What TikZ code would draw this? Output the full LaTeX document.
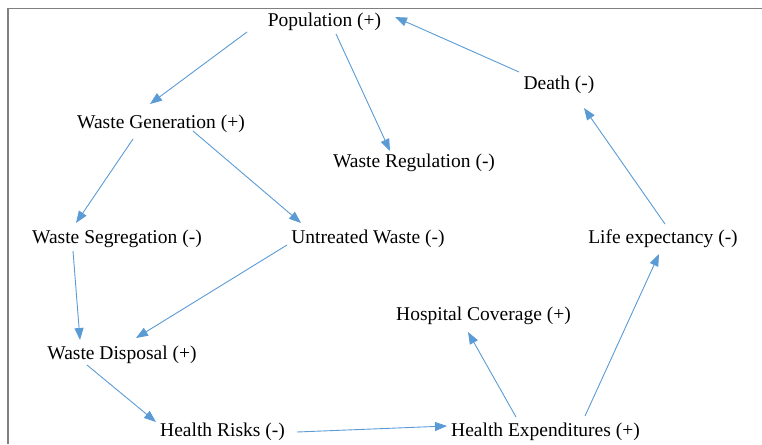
\documentclass[tikz,border=0pt]{standalone}
\usepackage{fontspec}
\setmainfont{Liberation Serif}
\usetikzlibrary{arrows.meta}
\definecolor{linkblue}{RGB}{91,155,213}
\definecolor{framegray}{RGB}{128,128,128}
\begin{document}
\begin{tikzpicture}[x=1pt,y=-1pt,
  factor/.style={inner sep=0pt, text height=17.5pt, text depth=4pt,
    font=\fontsize{19.5}{23}\selectfont, text=black},
  link/.style={draw=linkblue, line width=0.9pt,
    -{Triangle[length=12pt,width=9pt,fill=linkblue]}}]
\useasboundingbox (0,0) rectangle (762,444);
% frame: top and left edges only
\draw[framegray, line width=1.3pt] (8,444) -- (8,8.5) -- (762,8.5);

% factors
\node[factor] (pop)   at (324.5,20)  {Population (+)};
\node[factor] (death) at (559,83)    {Death (-)};
\node[factor] (wg)    at (161,122)   {Waste Generation (+)};
\node[factor] (wreg)  at (414,161)   {Waste Regulation (-)};
\node[factor] (wseg)  at (117,237)   {Waste Segregation (-)};
\node[factor] (uw)    at (368,237)   {Untreated Waste (-)};
\node[factor] (le)    at (663,237)   {Life expectancy (-)};
\node[factor] (hc)    at (483.5,314) {Hospital Coverage (+)};
\node[factor] (wd)    at (122,353)   {Waste Disposal (+)};
\node[factor] (hr)    at (222.5,430) {Health Risks (-)};
\node[factor] (he)    at (545.5,430) {Health Expenditures (+)};

% causal links
\draw[link] ([shift={(-77.5,12)}]pop.center)  -- ([shift={(-11,-18)}]wg.center);
\draw[link] ([shift={(11.5,14)}]pop.center)   -- ([shift={(-24,-10)}]wreg.center);
\draw[link] ([shift={(-40,-11)}]death.center) -- ([shift={(70.5,-3)}]pop.center);
\draw[link] ([shift={(2,-13)}]le.center)      -- ([shift={(25,25)}]death.center);
\draw[link] ([shift={(-28,17)}]wg.center)     -- ([shift={(-41,-14)}]wseg.center);
\draw[link] ([shift={(32,9)}]wg.center)       -- ([shift={(-67,-14)}]uw.center);
\draw[link] ([shift={(-44,14)}]wseg.center)   -- ([shift={(-42,-13)}]wd.center);
\draw[link] ([shift={(-81,8)}]uw.center)      -- ([shift={(14,-15)}]wd.center);
\draw[link] ([shift={(-35,12)}]wd.center)     -- ([shift={(-66.5,-8)}]hr.center);
\draw[link] ([shift={(74.5,2)}]hr.center)     -- ([shift={(-98.5,-4)}]he.center);
\draw[link] ([shift={(-29.5,-13)}]he.center)  -- ([shift={(-15.5,18)}]hc.center);
\draw[link] ([shift={(39.5,-14)}]he.center)   -- ([shift={(-4,17)}]le.center);
\end{tikzpicture}
\end{document}
